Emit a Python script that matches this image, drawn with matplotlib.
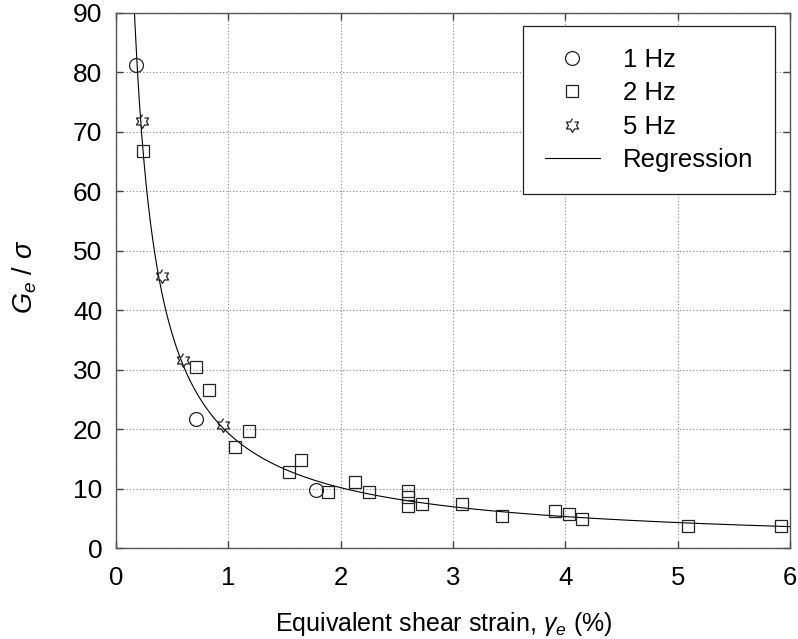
import numpy as np
import matplotlib
matplotlib.use("Agg")
import matplotlib.pyplot as plt

plt.rcParams['font.family'] = ['Liberation Sans', 'DejaVu Sans']
plt.rcParams['mathtext.fontset'] = 'custom'
plt.rcParams['mathtext.rm'] = 'Liberation Sans'
plt.rcParams['mathtext.it'] = 'Liberation Sans:italic'

# measured points, one pair of lists per loading frequency
hz1_x = [0.18, 0.71, 1.78]
hz1_y = [81.3, 21.7, 9.8]

hz2_x = [0.24, 0.71, 0.83, 1.06, 1.18, 1.54, 1.65, 1.89, 2.13, 2.25,
         2.60, 2.60, 2.60, 2.72, 3.08, 3.44, 3.91, 4.03, 4.15, 5.09, 5.92]
hz2_y = [66.8, 30.4, 26.6, 17.0, 19.6, 12.8, 14.8, 9.5, 11.1, 9.4,
         9.6, 8.5, 7.0, 7.4, 7.4, 5.3, 6.2, 5.7, 4.9, 3.7, 3.7]

hz5_x = [0.235, 0.41, 0.595, 0.95]
hz5_y = [71.8, 45.8, 31.7, 20.7]

# regression curve G/sigma = a * (gamma + c) ** b
reg_a = 20.13
reg_b = -0.957
reg_c = 0.045

x_ticks = [0, 1, 2, 3, 4, 5, 6]
y_ticks = [0, 10, 20, 30, 40, 50, 60, 70, 80, 90]

# six-pointed star outline
ang = np.pi / 2 + np.arange(12) * np.pi / 6
rad = np.where(np.arange(12) % 2 == 0, 1.0, 0.577)
star = list(zip(rad * np.cos(ang), rad * np.sin(ang)))

fig = plt.figure(figsize=(7.98, 6.39), dpi=100)
ax = fig.add_axes([0.1454, 0.1424, 0.8445, 0.8373])

gamma = np.linspace(0.1, 6, 600)
ax.plot(gamma, reg_a * (gamma + reg_c) ** reg_b, color='black', lw=0.8,
        label='Regression', zorder=2)

mk = dict(linestyle='none', markerfacecolor='none', markeredgecolor='#222222',
          markeredgewidth=0.9, zorder=3)
ax.plot(hz1_x, hz1_y, marker='o', markersize=10, label='1 Hz', **mk)
ax.plot(hz2_x, hz2_y, marker='s', markersize=9, label='2 Hz', **mk)
ax.plot(hz5_x, hz5_y, marker=star, markersize=10, label='5 Hz', **mk)

ax.set_xlim(0, 6)
ax.set_ylim(0, 90)
ax.set_xticks(x_ticks)
ax.set_yticks(y_ticks)
ax.grid(True, color='#888888', linestyle=(0, (1, 2)), linewidth=0.8)
ax.set_axisbelow(True)
for s in ax.spines.values():
    s.set_color('#555555')
    s.set_linewidth(1.0)
ax.tick_params(direction='in', top=True, right=True, length=5, width=1,
               color='#444444', labelsize=19)
ax.tick_params(axis='x', pad=13, labelsize=18.5)
ax.tick_params(axis='y', pad=10)

ax.set_xlabel(r'Equivalent shear strain, $\gamma_e$ (%)', fontsize=18)
ax.set_ylabel(r'$G_e$ / $\sigma$', fontsize=19.5)
ax.xaxis.set_label_coords(0.487, -0.115)
ax.yaxis.set_label_coords(-0.115, 0.507)

handles, labels = ax.get_legend_handles_labels()
order = [1, 2, 3, 0]
leg = ax.legend([handles[i] for i in order], [labels[i] for i in order],
                loc='upper right', bbox_to_anchor=(0.978, 0.976),
                borderaxespad=0, fontsize=18.5, handlelength=2.14,
                handletextpad=0.9, labelspacing=0.37, borderpad=0.85,
                fancybox=False, framealpha=1, edgecolor='#222222')
leg.get_frame().set_linewidth(0.9)

fig.savefig('out.png', dpi=100)
